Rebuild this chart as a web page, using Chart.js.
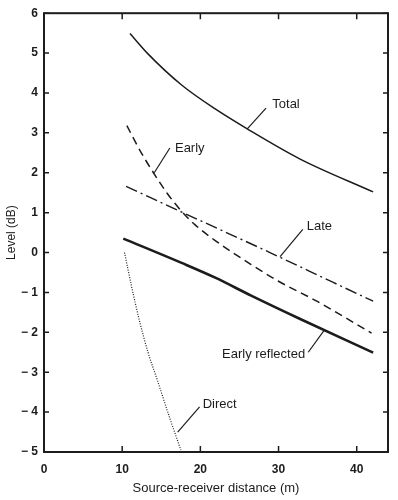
<!DOCTYPE html>
<html>
<head>
<meta charset="utf-8">
<script src="https://cdn.jsdelivr.net/npm/chart.js@4.4.0/dist/chart.umd.min.js"></script>
<style>
  html, body { margin: 0; padding: 0; background: #fff; }
  #wrap { width: 398px; height: 500px; }
</style>
</head>
<body>
<div id="wrap"><canvas id="chart" width="398" height="500"></canvas></div>
<script>
// values (distance in m, level in dB)
const totalX = [11, 13.3, 17.6, 21.9, 26, 32.7, 42.1];
const totalY = [5.49, 4.98, 4.2, 3.6, 3.1, 2.35, 1.52];

const earlyX = [10.6, 12.3, 14, 15.7, 17.4, 19.3, 21.9, 26.5, 30, 34.9, 41.9];
const earlyY = [3.18, 2.55, 2.0, 1.5, 1.08, 0.7, 0.3, -0.3, -0.72, -1.22, -2.02];

const lateX = [10.5, 20, 28.9, 37, 42.1];
const lateY = [1.66, 0.8, 0.0, -0.75, -1.22];

const reflX = [10.14, 17.6, 21.9, 26.5, 32.7, 42.1];
const reflY = [0.35, -0.26, -0.63, -1.08, -1.66, -2.51];

const directX = [10.3, 11.2, 12.2, 13.3, 14.5, 16, 17.5];
const directY = [0.0, -0.85, -1.7, -2.5, -3.2, -4.1, -4.95];

const xTicks = [0, 10, 20, 30, 40];
const xTickLabels = ['0', '10', '20', '30', '40'];
const yTicks = [6, 5, 4, 3, 2, 1, 0, -1, -2, -3, -4, -5];
const yTickLabels = ['6', '5', '4', '3', '2', '1', '0', '\u2212 1', '\u2212 2', '\u2212 3', '\u2212 4', '\u2212 5'];

function pts(xs, ys) {
    return xs.map((x, i) => ({ x: x, y: ys[i] }));
}

// curve labels with their leader lines, in data units
const curveLabels = [
    { text: 'Total', tx: 29.2, ty: 3.72, align: 'left', from: [26.0, 3.1], to: [28.4, 3.62] },
    { text: 'Early', tx: 16.75, ty: 2.62, align: 'left', from: [14.1, 2.0], to: [16.1, 2.62] },
    { text: 'Late', tx: 33.6, ty: 0.65, align: 'left', from: [30.2, -0.1], to: [33.1, 0.58] },
    { text: 'Early reflected', tx: 33.4, ty: -2.55, align: 'right', from: [35.9, -1.93], to: [33.8, -2.5] },
    { text: 'Direct', tx: 20.3, ty: -3.8, align: 'left', from: [17.1, -4.5], to: [19.9, -3.87] }
];

const ink = '#1c1c1c';

// frame, inward ticks and curve labels
const decorations = {
    id: 'decorations',
    afterDatasetsDraw(chart) {
        const ctx = chart.ctx;
        const a = chart.chartArea;
        const xs = chart.scales.x;
        const ys = chart.scales.y;
        ctx.save();
        ctx.strokeStyle = ink;
        ctx.lineWidth = 2;
        ctx.strokeRect(a.left, a.top, a.right - a.left, a.bottom - a.top);

        ctx.lineWidth = 1.5;
        ctx.beginPath();
        xTicks.forEach(v => {
            const px = xs.getPixelForValue(v);
            ctx.moveTo(px, a.bottom); ctx.lineTo(px, a.bottom - 6);
            ctx.moveTo(px, a.top); ctx.lineTo(px, a.top + 6);
        });
        yTicks.forEach(v => {
            const py = ys.getPixelForValue(v);
            ctx.moveTo(a.left, py); ctx.lineTo(a.left + 5, py);
            ctx.moveTo(a.right, py); ctx.lineTo(a.right - 5, py);
        });
        ctx.stroke();

        ctx.lineWidth = 1.2;
        ctx.fillStyle = ink;
        ctx.font = '13px "Liberation Sans", Arial, sans-serif';
        ctx.textBaseline = 'middle';
        curveLabels.forEach(l => {
            ctx.beginPath();
            ctx.moveTo(xs.getPixelForValue(l.from[0]), ys.getPixelForValue(l.from[1]));
            ctx.lineTo(xs.getPixelForValue(l.to[0]), ys.getPixelForValue(l.to[1]));
            ctx.stroke();
            ctx.textAlign = l.align;
            ctx.fillText(l.text, xs.getPixelForValue(l.tx), ys.getPixelForValue(l.ty));
        });
        ctx.restore();
    }
};

const ctx = document.getElementById('chart').getContext('2d');
new Chart(ctx, {
    type: 'scatter',
    data: {
        datasets: [
            { label: 'Total', data: pts(totalX, totalY), borderWidth: 1.5, borderDash: [] },
            { label: 'Early', data: pts(earlyX, earlyY), borderWidth: 1.5, borderDash: [8, 5] },
            { label: 'Late', data: pts(lateX, lateY), borderWidth: 1.4, borderDash: [12, 4, 2, 4] },
            { label: 'Early reflected', data: pts(reflX, reflY), borderWidth: 2.6, borderDash: [] },
            { label: 'Direct', data: pts(directX, directY), borderWidth: 1.2, borderDash: [1, 1.5] }
        ].map(d => Object.assign(d, {
            showLine: true,
            borderColor: ink,
            pointRadius: 0,
            cubicInterpolationMode: 'monotone',
            fill: false
        }))
    },
    options: {
        responsive: false,
        animation: false,
        layout: { padding: { top: 13, right: 10, left: 0, bottom: 0 } },
        plugins: {
            legend: { display: false },
            tooltip: { enabled: false }
        },
        scales: {
            x: {
                type: 'linear',
                min: 0,
                max: 44,
                afterBuildTicks: s => { s.ticks = xTicks.map(v => ({ value: v })); },
                afterFit: s => { s.height = 48; },
                grid: { display: false, drawTicks: false },
                border: { display: false },
                ticks: {
                    color: ink,
                    padding: 10,
                    font: { family: '"Liberation Sans", Arial, sans-serif', size: 12, weight: 'bold' },
                    callback: v => xTickLabels[xTicks.indexOf(v)]
                },
                title: {
                    display: true,
                    text: 'Source-receiver distance (m)',
                    color: ink,
                    padding: { top: 2 },
                    font: { family: '"Liberation Sans", Arial, sans-serif', size: 13 }
                }
            },
            y: {
                type: 'linear',
                min: -5,
                max: 6,
                afterBuildTicks: s => { s.ticks = yTicks.map(v => ({ value: v })); },
                afterFit: s => { s.width = 44; },
                grid: { display: false, drawTicks: false },
                border: { display: false },
                ticks: {
                    color: ink,
                    padding: 6,
                    font: { family: '"Liberation Sans", Arial, sans-serif', size: 12, weight: 'bold' },
                    callback: v => yTickLabels[yTicks.indexOf(v)]
                },
                title: {
                    display: true,
                    text: 'Level (dB)',
                    color: ink,
                    padding: { bottom: 0 },
                    font: { family: '"Liberation Sans", Arial, sans-serif', size: 12 }
                }
            }
        }
    },
    plugins: [decorations]
});
</script>
</body>
</html>
